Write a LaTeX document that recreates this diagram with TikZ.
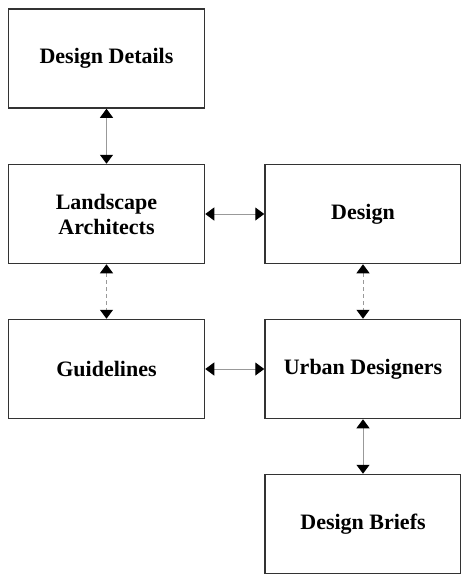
\documentclass[tikz,border=0pt]{standalone}
\usepackage{fontspec}
\setmainfont{Liberation Serif}
\usepackage{tikz}
\usetikzlibrary{arrows.meta}

\tikzset{
  box/.style={draw=black!80, line width=1.5pt, minimum width=196pt, minimum height=99pt,
    align=center, font=\fontsize{22}{25}\selectfont\bfseries},
  link/.style={draw=black!40, line width=1pt,
    {Triangle[color=black,width=13pt,length=9pt]}-{Triangle[color=black,width=13pt,length=9pt]}},
  weak/.style={link, dashed, dash pattern=on 4pt off 3pt}
}

\begin{document}
\begin{tikzpicture}[x=1pt,y=-1pt]
\useasboundingbox (0,0) rectangle (461,574);
\node[box] (details) at (106.5,58.5) {Design Details};
\node[box] (landscape) at (106.5,214) {Landscape\\Architects};
\node[box] (guide) at (106.5,369) {Guidelines};
\node[box] (design) at (363,214) {Design};
\node[box] (urban) at (363,369) {Urban Designers};
\node[box] (briefs) at (363,524) {Design Briefs};
\draw[link] (details) -- (landscape);
\draw[link] (landscape) -- (design);
\draw[weak] (landscape) -- (guide);
\draw[weak] (design) -- (urban);
\draw[link] (guide) -- (urban);
\draw[link] (urban) -- (briefs);
\end{tikzpicture}
\end{document}
